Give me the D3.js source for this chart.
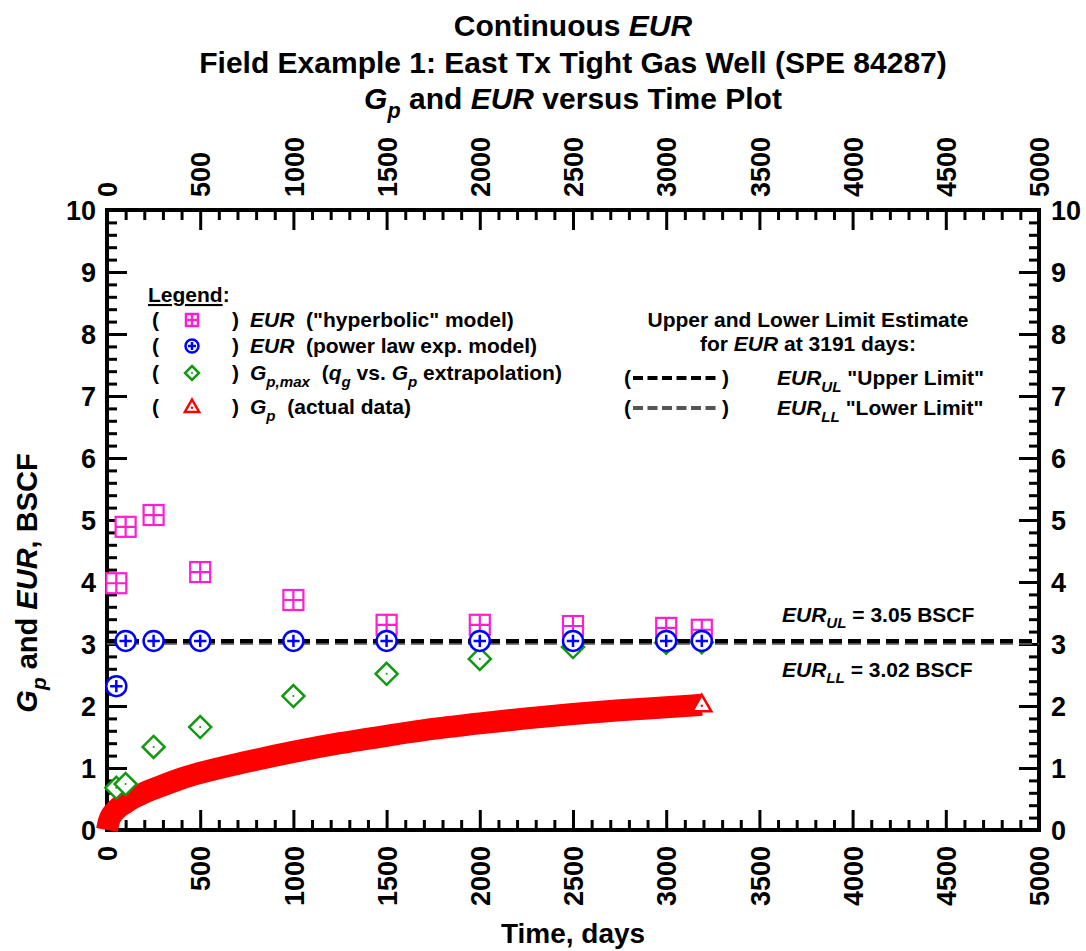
<!DOCTYPE html>
<html>
<head>
<meta charset="utf-8">
<script src="https://cdn.jsdelivr.net/npm/d3@7"></script>
<style>
  html, body { margin: 0; padding: 0; background: #fff; }
  svg { display: block; font-family: "Liberation Sans", Arial, sans-serif; font-weight: bold; }
  svg text { white-space: pre; }
</style>
</head>
<body>
<svg id="chart" width="1086" height="951"></svg>
<script>
// Sampling times (days) for the EUR estimates
const estDays = [50, 100, 250, 500, 1000, 1500, 2000, 2500, 3000, 3191];
// EUR from the "hyperbolic" model, BSCF
const eurHyperbolic = [3.98, 4.89, 5.08, 4.16, 3.71, 3.31, 3.31, 3.29, 3.26, 3.23];
// EUR from the power law exponential model, BSCF
const eurPowerLaw = [2.32, 3.05, 3.05, 3.05, 3.05, 3.05, 3.05, 3.05, 3.05, 3.05];
// Gp,max from qg vs. Gp extrapolation, BSCF
const gpMax = [0.68, 0.74, 1.34, 1.66, 2.16, 2.52, 2.76, 2.95, 3.02, 3.03];
// Cumulative production (actual data)
const gpDays = [0, 10, 25, 50, 100, 150, 200, 300, 400, 500, 750, 1000, 1250, 1500, 1750, 2000, 2250, 2500, 2750, 3000, 3191];
const gpActual = [0, 0.14, 0.24, 0.33, 0.44, 0.53, 0.60, 0.72, 0.83, 0.92, 1.10, 1.26, 1.40, 1.52, 1.63, 1.72, 1.80, 1.87, 1.93, 1.98, 2.02];
// Upper / lower limit estimates of EUR at 3191 days
const eurLimits = [3.05, 3.02];
// Axis ticks
const xMajorTicks = [0, 500, 1000, 1500, 2000, 2500, 3000, 3500, 4000, 4500, 5000];
const yMajorTicks = [0, 1, 2, 3, 4, 5, 6, 7, 8, 9, 10];

const PINK = "#ff1ed0", BLUE = "#0000ff", GREEN = "#119911", RED = "#ff0000";
const L = 107, R = 1039, T = 210, B = 830;

const svg = d3.select("#chart");
const x = d3.scaleLinear().domain([0, 5000]).range([L, R]);
const y = d3.scaleLinear().domain([0, 10]).range([B, T]);

// Text with italic / subscript runs
function rich(sel, parts, size) {
  let shift = 0;
  parts.forEach(([t, f = ""]) => {
    const sub = f.includes("s");
    const target = sub ? size * 0.3 : 0;
    sel.append("tspan")
      .text(t)
      .attr("dy", target - shift)
      .attr("font-size", sub ? size * 0.72 : size)
      .attr("font-style", f.includes("i") ? "italic" : "normal");
    shift = target;
  });
  return sel;
}

// ---- Titles ----
const cx = (L + R) / 2;
rich(svg.append("text").attr("x", cx).attr("y", 36).attr("text-anchor", "middle"),
  [["Continuous "], ["EUR", "i"]], 30);
rich(svg.append("text").attr("x", cx).attr("y", 73).attr("text-anchor", "middle"),
  [["Field Example 1: East Tx Tight Gas Well (SPE 84287)"]], 30);
rich(svg.append("text").attr("x", cx).attr("y", 109).attr("text-anchor", "middle"),
  [["G", "i"], ["p", "is"], [" and "], ["EUR", "i"], [" versus Time Plot"]], 30);

// ---- Axes ----
const xMinor = d3.range(0, 5001, 100).filter(v => v % 500 !== 0);
const yMinor = d3.range(0, 51, 1).map(v => v / 5).filter(v => Math.abs(v - Math.round(v)) > 1e-9);

function styleAxis(g) {
  g.select(".domain").remove();
  g.selectAll("line").attr("stroke", "#000").attr("stroke-width", 3);
  g.selectAll("text").attr("font-size", 27).attr("font-weight", "bold").attr("fill", "#000")
    .attr("font-family", "'Liberation Sans', Arial, sans-serif");
}

// bottom
svg.append("g").attr("transform", `translate(0,${B})`)
  .call(d3.axisBottom(x).tickValues(xMinor).tickSize(-10).tickFormat(""))
  .call(styleAxis);
svg.append("g").attr("transform", `translate(0,${B})`)
  .call(d3.axisBottom(x).tickValues(xMajorTicks).tickSize(-20).tickFormat(d3.format("d")))
  .call(styleAxis)
  .call(g => g.selectAll("text").attr("transform", "rotate(-90)")
    .attr("x", -16).attr("y", 0).attr("dy", "0.36em").attr("text-anchor", "end"));
// top
svg.append("g").attr("transform", `translate(0,${T})`)
  .call(d3.axisTop(x).tickValues(xMinor).tickSize(-10).tickFormat(""))
  .call(styleAxis);
svg.append("g").attr("transform", `translate(0,${T})`)
  .call(d3.axisTop(x).tickValues(xMajorTicks).tickSize(-20).tickFormat(d3.format("d")))
  .call(styleAxis)
  .call(g => g.selectAll("text").attr("transform", "rotate(-90)")
    .attr("x", 13).attr("y", 0).attr("dy", "0.36em").attr("text-anchor", "start"));
// left
svg.append("g").attr("transform", `translate(${L},0)`)
  .call(d3.axisLeft(y).tickValues(yMinor).tickSize(-10).tickFormat(""))
  .call(styleAxis);
svg.append("g").attr("transform", `translate(${L},0)`)
  .call(d3.axisLeft(y).tickValues(yMajorTicks).tickSize(-20).tickFormat(d3.format("d")))
  .call(styleAxis)
  .call(g => g.selectAll("text").attr("x", -11).attr("dy", "0.36em"));
// right
svg.append("g").attr("transform", `translate(${R},0)`)
  .call(d3.axisRight(y).tickValues(yMinor).tickSize(-10).tickFormat(""))
  .call(styleAxis);
svg.append("g").attr("transform", `translate(${R},0)`)
  .call(d3.axisRight(y).tickValues(yMajorTicks).tickSize(-20).tickFormat(d3.format("d")))
  .call(styleAxis)
  .call(g => g.selectAll("text").attr("x", 12).attr("dy", "0.36em"));

// frame
svg.append("rect").attr("x", L).attr("y", T).attr("width", R - L).attr("height", B - T)
  .attr("fill", "none").attr("stroke", "#000").attr("stroke-width", 4);

// axis titles
rich(svg.append("text").attr("x", cx).attr("y", 943).attr("text-anchor", "middle"),
  [["Time, days"]], 28);
rich(svg.append("text").attr("transform", `translate(37,583) rotate(-90)`).attr("text-anchor", "middle"),
  [["G", "i"], ["p", "is"], [" and "], ["EUR", "i"], [", BSCF"]], 29);

// ---- Marker shapes ----
function squareMark(g, s, sw) {
  g.append("rect").attr("x", -s / 2).attr("y", -s / 2).attr("width", s).attr("height", s)
    .attr("fill", "#fff").attr("stroke", PINK).attr("stroke-width", sw);
  g.append("path").attr("d", `M0,${-s / 2}V${s / 2}M${-s / 2},0H${s / 2}`)
    .attr("stroke", PINK).attr("stroke-width", sw);
}
function circleMark(g, r, sw) {
  g.append("circle").attr("r", r).attr("fill", "#fff").attr("stroke", BLUE).attr("stroke-width", sw);
  const a = r * 0.62;
  g.append("path").attr("d", `M0,${-a}V${a}M${-a},0H${a}`).attr("stroke", BLUE).attr("stroke-width", sw);
}
function diamondMark(g, h, sw) {
  g.append("path").attr("d", `M0,${-h}L${h},0L0,${h}L${-h},0Z`)
    .attr("fill", "#fff").attr("stroke", GREEN).attr("stroke-width", sw);
  g.append("circle").attr("r", 1).attr("fill", GREEN);
}
function triangleMark(g, h, sw) {
  g.append("path").attr("d", `M0,${-h}L${h * 0.95},${h * 0.65}L${-h * 0.95},${h * 0.65}Z`)
    .attr("fill", "#fff").attr("stroke", RED).attr("stroke-width", sw).attr("stroke-linejoin", "miter");
  g.append("circle").attr("cy", h * 0.1).attr("r", 1.2).attr("fill", RED);
}

// ---- Limit lines ----
svg.append("line").attr("x1", x(0)).attr("x2", x(5000)).attr("y1", y(eurLimits[1])).attr("y2", y(eurLimits[1]))
  .attr("stroke", "#555").attr("stroke-width", 4).attr("stroke-dasharray", "13,6");
svg.append("line").attr("x1", x(0)).attr("x2", x(5000)).attr("y1", y(eurLimits[0])).attr("y2", y(eurLimits[0]))
  .attr("stroke", "#000").attr("stroke-width", 4).attr("stroke-dasharray", "13,6");

// ---- Gp actual data (dense markers form a thick band) ----
const gpPts = gpDays.map((d, i) => [d, gpActual[i]]);
svg.append("path").datum(gpPts)
  .attr("d", d3.line().x(d => x(d[0])).y(d => y(d[1])).curve(d3.curveMonotoneX))
  .attr("fill", "none").attr("stroke", RED).attr("stroke-width", 22).attr("stroke-linecap", "butt");
const last = gpPts[gpPts.length - 1];
triangleMark(svg.append("g").attr("transform", `translate(${x(last[0])},${y(last[1])})`), 10, 2.5);

// ---- Estimates ----
estDays.forEach((d, i) => diamondMark(svg.append("g").attr("transform", `translate(${x(d)},${y(gpMax[i])})`), 11, 2.5));
estDays.forEach((d, i) => squareMark(svg.append("g").attr("transform", `translate(${x(d)},${y(eurHyperbolic[i])})`), 20, 2.2));
estDays.forEach((d, i) => circleMark(svg.append("g").attr("transform", `translate(${x(d)},${y(eurPowerLaw[i])})`), 10, 2.5));

// ---- Legend ----
const FS = 21;
const lg = svg.append("text").attr("x", 148).attr("y", 302).attr("font-size", FS);
lg.append("tspan").text("Legend").attr("text-decoration", "underline");
lg.append("tspan").text(":");

const rows = [
  { y: 320, mark: g => squareMark(g, 12, 2.5), parts: [["EUR", "i"], ["  (\"hyperbolic\" model)"]] },
  { y: 346, mark: g => circleMark(g, 6.5, 2.5), parts: [["EUR", "i"], ["  (power law exp. model)"]] },
  { y: 373, mark: g => diamondMark(g, 7, 2.5), parts: [["G", "i"], ["p,max", "is"], ["  ("], ["q", "i"], ["g", "is"], [" vs. "], ["G", "i"], ["p", "is"], [" extrapolation)"]] },
  { y: 407, mark: g => triangleMark(g, 7.5, 2.5), parts: [["G", "i"], ["p", "is"], ["  (actual data)"]] }
];
rows.forEach(r => {
  svg.append("text").attr("x", 152).attr("y", r.y).attr("dy", "0.35em").attr("font-size", FS).text("(");
  svg.append("text").attr("x", 232).attr("y", r.y).attr("dy", "0.35em").attr("font-size", FS).text(")");
  r.mark(svg.append("g").attr("transform", `translate(192,${r.y})`));
  rich(svg.append("text").attr("x", 250).attr("y", r.y + FS * 0.35), r.parts, FS);
});

// Limit estimate block
const rx = 808;
rich(svg.append("text").attr("x", rx).attr("y", 327).attr("text-anchor", "middle"),
  [["Upper and Lower Limit Estimate"]], FS);
rich(svg.append("text").attr("x", rx).attr("y", 351).attr("text-anchor", "middle"),
  [["for "], ["EUR", "i"], [" at 3191 days:"]], FS);
[{ y: 378, c: "#000", parts: [["EUR", "i"], ["UL", "is"], [" \"Upper Limit\""]] },
 { y: 408, c: "#555", parts: [["EUR", "i"], ["LL", "is"], [" \"Lower Limit\""]] }].forEach(r => {
  svg.append("text").attr("x", 624).attr("y", r.y).attr("dy", "0.35em").attr("font-size", FS).text("(");
  svg.append("text").attr("x", 722).attr("y", r.y).attr("dy", "0.35em").attr("font-size", FS).text(")");
  svg.append("line").attr("x1", 633).attr("x2", 720).attr("y1", r.y).attr("y2", r.y)
    .attr("stroke", r.c).attr("stroke-width", 4).attr("stroke-dasharray", "10,4.5");
  rich(svg.append("text").attr("x", 777).attr("y", r.y + FS * 0.35), r.parts, FS);
});

// Value annotations for the limit lines
rich(svg.append("text").attr("x", 782).attr("y", 622),
  [["EUR", "i"], ["UL", "is"], [" = " + eurLimits[0].toFixed(2) + " BSCF"]], FS);
rich(svg.append("text").attr("x", 782).attr("y", 677),
  [["EUR", "i"], ["LL", "is"], [" = " + eurLimits[1].toFixed(2) + " BSCF"]], FS);
</script>
</body>
</html>
